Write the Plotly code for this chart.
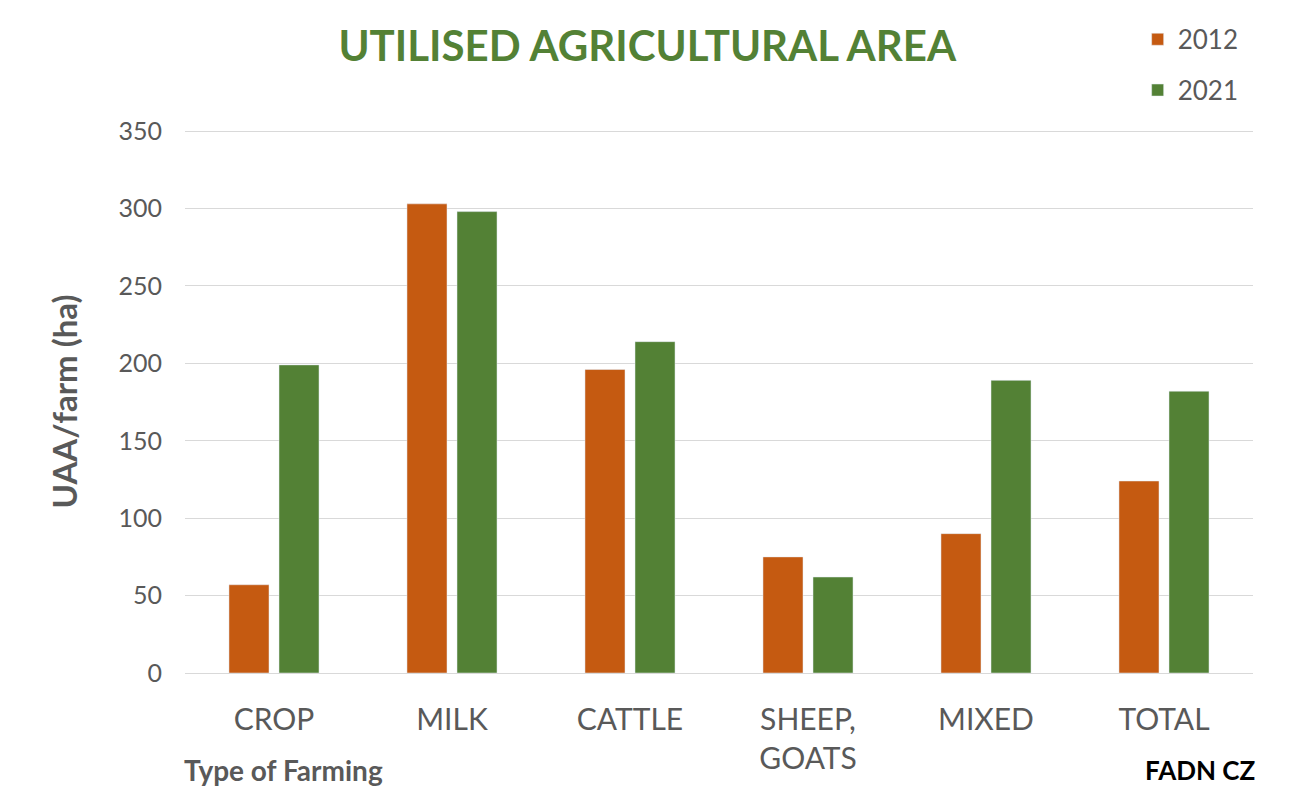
import plotly.graph_objects as go

categories = ["CROP", "MILK", "CATTLE", "SHEEP,<br>GOATS", "MIXED", "TOTAL"]
values_2012 = [57, 303, 196, 75, 90, 124]
values_2021 = [199, 298, 214, 62, 189, 182]
y_ticks = [0, 50, 100, 150, 200, 250, 300, 350]

FONT = "Lato, 'Open Sans', sans-serif"
GRAY = "#595959"

fig = go.Figure()
fig.add_trace(go.Bar(x=categories, y=values_2012, name="2012",
                     marker_color="#C55A11", legendgroup="a"))
fig.add_trace(go.Bar(x=categories, y=values_2021, name="2021",
                     marker_color="#538135", legendgroup="b"))

fig.update_layout(
    width=1305, height=792,
    margin=dict(l=185, r=52, t=130, b=119, autoexpand=False),
    paper_bgcolor="white", plot_bgcolor="white",
    font=dict(family=FONT, color=GRAY),
    barmode="group", bargap=0.438, bargroupgap=0.2,
    title=dict(text="<b>UTILISED AGRICULTURAL AREA</b>",
               font=dict(family=FONT, size=42, color="#538135"),
               x=0.496, xanchor="center", y=0.942, yanchor="middle"),
    legend=dict(x=0.892, xref="paper", xanchor="left",
                y=0.98, yref="container", yanchor="top",
                font=dict(size=26, color=GRAY), tracegroupgap=14,
                bgcolor="rgba(0,0,0,0)"),
    showlegend=True,
)

fig.update_xaxes(tickfont=dict(size=30, color=GRAY), showgrid=False,
                 showline=False, ticks="", ticklabelstandoff=26)
fig.update_yaxes(range=[0, 350.7], tickvals=y_ticks,
                 tickfont=dict(size=25, color=GRAY),
                 showgrid=True, gridcolor="#D9D9D9", gridwidth=1.3,
                 zeroline=True, zerolinecolor="#D9D9D9", zerolinewidth=1.3,
                 showline=False, ticks="", ticklabelstandoff=22,
                 title=dict(text="<b>UAA/farm (ha)</b>",
                            font=dict(size=33, color=GRAY), standoff=30))

fig.add_annotation(text="<b>Type of Farming</b>", xref="paper", yref="paper",
                   x=-0.003, xanchor="left", y=-0.178, yanchor="middle",
                   showarrow=False, font=dict(size=28, color=GRAY, family=FONT))
fig.add_annotation(text="<b>FADN CZ</b>", xref="paper", yref="paper",
                   x=1.005, xanchor="right", y=-0.178, yanchor="middle",
                   showarrow=False, font=dict(size=26, color="black", family=FONT))

fig.write_html("out.html")
